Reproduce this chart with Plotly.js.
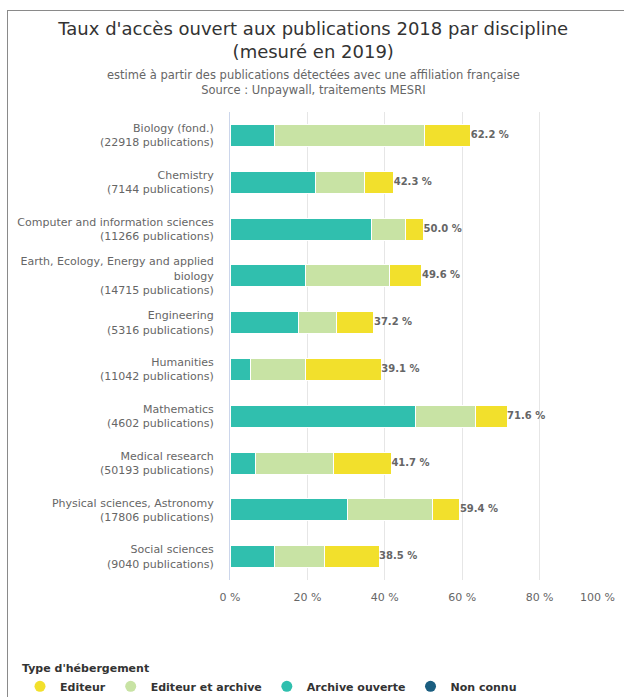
<!DOCTYPE html>
<html>
<head>
<meta charset="utf-8">
<script src="https://cdn.plot.ly/plotly-3.0.1.min.js"></script>
<style>
  html, body { margin: 0; padding: 0; background: #ffffff; overflow: hidden; }
  #wrap { position: absolute; left: 0; top: 0; width: 624px; height: 697px; }
  #frame { position: absolute; left: 7px; top: 10px; width: 617px; height: 687px;
           border-left: 1px solid #8a8a8a; border-top: 1px solid #8a8a8a; pointer-events: none; }
  #chart { position: absolute; left: 0; top: 0; width: 624px; height: 697px; }
</style>
</head>
<body>
<div id="wrap">
  <div id="chart"></div>
  <div id="frame"></div>
</div>
<script>
// ---- Data ----
const categories = [
  "Biology (fond.)<br>(22918 publications)",
  "Chemistry<br>(7144 publications)",
  "Computer and information sciences<br>(11266 publications)",
  "Earth, Ecology, Energy and applied<br>biology<br>(14715 publications)",
  "Engineering<br>(5316 publications)",
  "Humanities<br>(11042 publications)",
  "Mathematics<br>(4602 publications)",
  "Medical research<br>(50193 publications)",
  "Physical sciences, Astronomy<br>(17806 publications)",
  "Social sciences<br>(9040 publications)"
];
const archiveOuverte    = [11.6, 22.2, 36.6, 19.4, 17.7,  5.3, 48.0,  6.6, 30.3, 11.5];
const editeurEtArchive  = [38.6, 12.5,  8.8, 21.7,  9.9, 14.3, 15.5, 20.1, 22.1, 13.0];
const editeur           = [12.0,  7.6,  4.6,  8.5,  9.6, 19.5,  8.1, 15.0,  7.0, 14.0];
const totals            = [62.2, 42.3, 50.0, 49.6, 37.2, 39.1, 71.6, 41.7, 59.4, 38.5];
const totalLabels       = totals.map(v => v.toFixed(1) + " %");
const tickValues        = [0, 20, 40, 60, 80, 100];
const tickLabels        = ["0 %", "20 %", "40 %", "60 %", "80 %", "100 %"];
const legendNames       = ["Editeur", "Editeur et archive", "Archive ouverte", "Non connu"];

// ---- Styles ----
const FONT = "DejaVu Sans, Verdana, sans-serif";
const C_EDITEUR = "#f2e02c";
const C_EDARCH  = "#c8e3a4";
const C_ARCHIVE = "#30bfae";
const C_NONC    = "#1b5e80";
const legendColors = [C_EDITEUR, C_EDARCH, C_ARCHIVE, C_NONC];

const barCommon = { type: "bar", orientation: "h", y: categories, showlegend: false, hoverinfo: "x+name" };

const traces = [
  Object.assign({}, barCommon, { name: "Archive ouverte", x: archiveOuverte,
    marker: { color: C_ARCHIVE, line: { width: 1, color: "#ffffff" } } }),
  Object.assign({}, barCommon, { name: "Editeur et archive", x: editeurEtArchive,
    marker: { color: C_EDARCH, line: { width: 1, color: "#ffffff" } } }),
  Object.assign({}, barCommon, { name: "Editeur", x: editeur,
    marker: { color: C_EDITEUR, line: { width: 1, color: "#ffffff" } } }),
  { type: "scatter", mode: "text", x: totals, y: categories, text: totalLabels,
    textposition: "middle right", showlegend: false, hoverinfo: "skip",
    textfont: { family: FONT, size: 10, color: "#666666", weight: "bold" }, cliponaxis: false }
];

// legend entries (circle symbols)
legendNames.forEach((n, i) => {
  traces.push({ type: "scatter", mode: "markers", x: [null], y: [null], name: n,
    marker: { color: legendColors[i], size: 11, symbol: "circle" }, showlegend: true, hoverinfo: "skip" });
});

const TICKFONT = { family: FONT, size: 11, color: "#666666" };
const lastTick = tickValues.length - 1;

const layout = {
  width: 624, height: 697,
  paper_bgcolor: "rgba(0,0,0,0)", plot_bgcolor: "#ffffff",
  margin: { l: 230, r: 7, t: 112, b: 117, autoexpand: false },
  barmode: "stack", bargap: 0.53,
  font: { family: FONT, size: 11, color: "#666666" },
  title: {
    text: "Taux d'accès ouvert aux publications 2018 par discipline<br>(mesuré en 2019)",
    font: { family: FONT, size: 18, color: "#333333" },
    x: 0.502, xref: "container", xanchor: "center",
    y: 1 - 35 / 697, yref: "container", yanchor: "middle"
  },
  annotations: [
    { text: "estimé à partir des publications détectées avec une affiliation française<br>Source : Unpaywall, traitements MESRI",
      xref: "paper", yref: "paper", x: (313 - 230) / 387, y: 1 + (112 - 82.5) / 468,
      xanchor: "center", yanchor: "middle",
      showarrow: false, font: { family: FONT, size: 11.5, color: "#666666" }, align: "center" },
    // last tick label, right-aligned at the axis end (as in the reference)
    { text: tickLabels[lastTick], xref: "x", yref: "paper", x: tickValues[lastTick], y: 0,
      xanchor: "right", yanchor: "top", yshift: -9, showarrow: false, font: TICKFONT }
  ],
  xaxis: {
    range: [0, 100], tickvals: tickValues,
    ticktext: tickLabels.map((t, i) => i === lastTick ? "" : t),
    showgrid: true, gridcolor: "#e6e6e6", gridwidth: 1, zeroline: false,
    showline: false, ticks: "", ticklabelstandoff: 9,
    tickfont: TICKFONT, fixedrange: true
  },
  yaxis: {
    autorange: "reversed", showline: true, linecolor: "#ccd6eb", linewidth: 1,
    ticks: "", ticklabelstandoff: 13, tickfont: TICKFONT,
    showgrid: false, zeroline: false, fixedrange: true
  },
  legend: {
    orientation: "h", traceorder: "normal",
    x: (20 - 230) / 387, xanchor: "left",
    y: (580.5 - 658) / 468, yanchor: "top",
    title: { text: "<b>Type d'hébergement</b>", side: "top", font: { family: FONT, size: 11, color: "#333333" } },
    font: { family: FONT, size: 11, color: "#333333", weight: "bold" },
    itemwidth: 30, tracegroupgap: 0, bgcolor: "rgba(0,0,0,0)"
  }
};

Plotly.newPlot("chart", traces, layout, { displayModeBar: false, staticPlot: true });
</script>
</body>
</html>
